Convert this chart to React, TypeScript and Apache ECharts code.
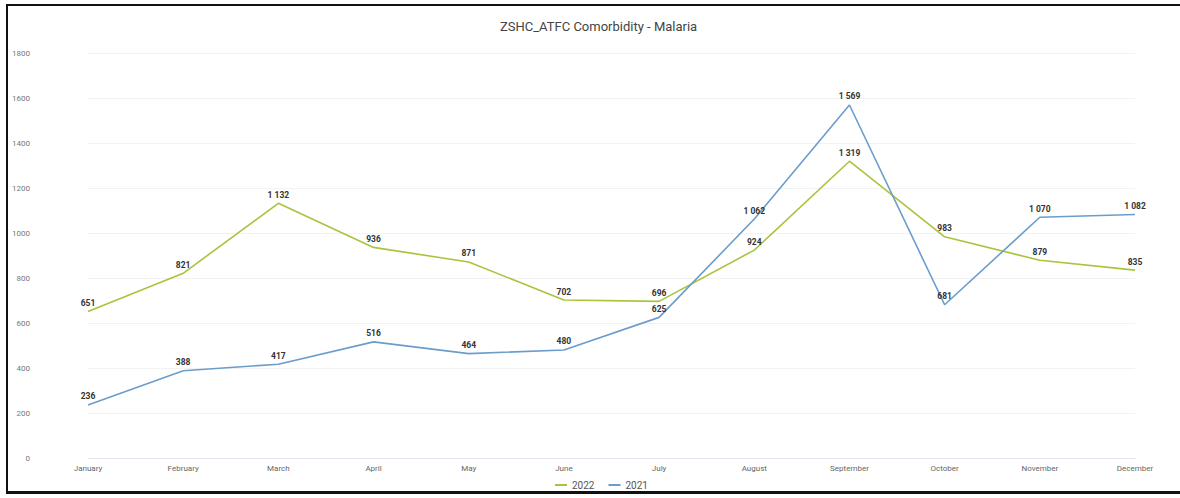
import React, { useEffect, useRef } from "react";
import * as echarts from "echarts";

const months = ["January","February","March","April","May","June","July","August","September","October","November","December"];
const values2022 = [651, 821, 1132, 936, 871, 702, 696, 924, 1319, 983, 879, 835];
const values2021 = [236, 388, 417, 516, 464, 480, 625, 1062, 1569, 681, 1070, 1082];
const seriesNames = ["2022", "2021"];

const fmt = (v: number) => {
  const s = String(v);
  return s.length > 3 ? s.slice(0, s.length - 3) + " " + s.slice(s.length - 3) : s;
};

export default function App() {
  const ref = useRef<HTMLDivElement>(null);
  useEffect(() => {
    const chart = echarts.init(ref.current!, null, { renderer: "svg" });
    const font = "Roboto, 'Noto Sans', sans-serif";
    const mk = (name: string, data: number[], color: string) => ({
      name,
      type: "line",
      data,
      symbol: "circle",
      symbolSize: 0.1,
      showSymbol: true,
      lineStyle: { color, width: 1.6 },
      itemStyle: { color },
      label: {
        show: true,
        position: "top",
        distance: 4,
        formatter: (p: any) => fmt(p.value),
        color: "#333",
        fontWeight: "bold",
        fontSize: 8.5,
        fontFamily: font,
      },
    });
    chart.setOption({
      animation: false,
      backgroundColor: "#fff",
      title: {
        text: "ZSHC_ATFC Comorbidity - Malaria",
        left: 495,
        top: 15,
        textStyle: { fontSize: 13, fontWeight: "normal", color: "#444", fontFamily: font },
      },
      legend: {
        bottom: 3,
        left: 550,
        itemWidth: 12,
        itemHeight: 2,
        itemGap: 14,
        icon: "rect",
        textStyle: { fontSize: 10, color: "#555", fontFamily: font },
        data: seriesNames,
      },
      grid: { left: 88, right: 45, top: 53, bottom: 40 },
      xAxis: {
        type: "category",
        data: months,
        boundaryGap: false,
        axisLine: { lineStyle: { color: "#dfe4ee" } },
        axisTick: { show: false },
        axisLabel: { color: "#666", fontSize: 8, margin: 6, fontFamily: font },
        splitLine: { show: false },
      },
      yAxis: {
        type: "value",
        min: 0,
        max: 1800,
        interval: 200,
        axisLine: { show: false },
        axisTick: { show: false },
        axisLabel: { color: "#777", fontSize: 8, margin: 58, fontFamily: font, formatter: (v: number) => String(v) },
        splitLine: { lineStyle: { color: "#f2f2f2" } },
      },
      series: [mk(seriesNames[0], values2022, "#a9c43c"), mk(seriesNames[1], values2021, "#6b9dcc")],
    });
    return () => chart.dispose();
  }, []);
  return (
    <div style={{ position: "absolute", left: 0, top: 0, width: 1180, height: 498, background: "#fff" }}>
      <div ref={ref} style={{ position: "absolute", left: 0, top: 0, width: 1180, height: 498 }} />
      <div
        style={{
          position: "absolute",
          left: 6,
          top: 4,
          width: 1180,
          height: 490,
          borderLeft: "2px solid #111",
          borderTop: "2px solid #111",
          borderBottom: "3px solid #111",
          boxSizing: "border-box",
          pointerEvents: "none",
        }}
      />
    </div>
  );
}
